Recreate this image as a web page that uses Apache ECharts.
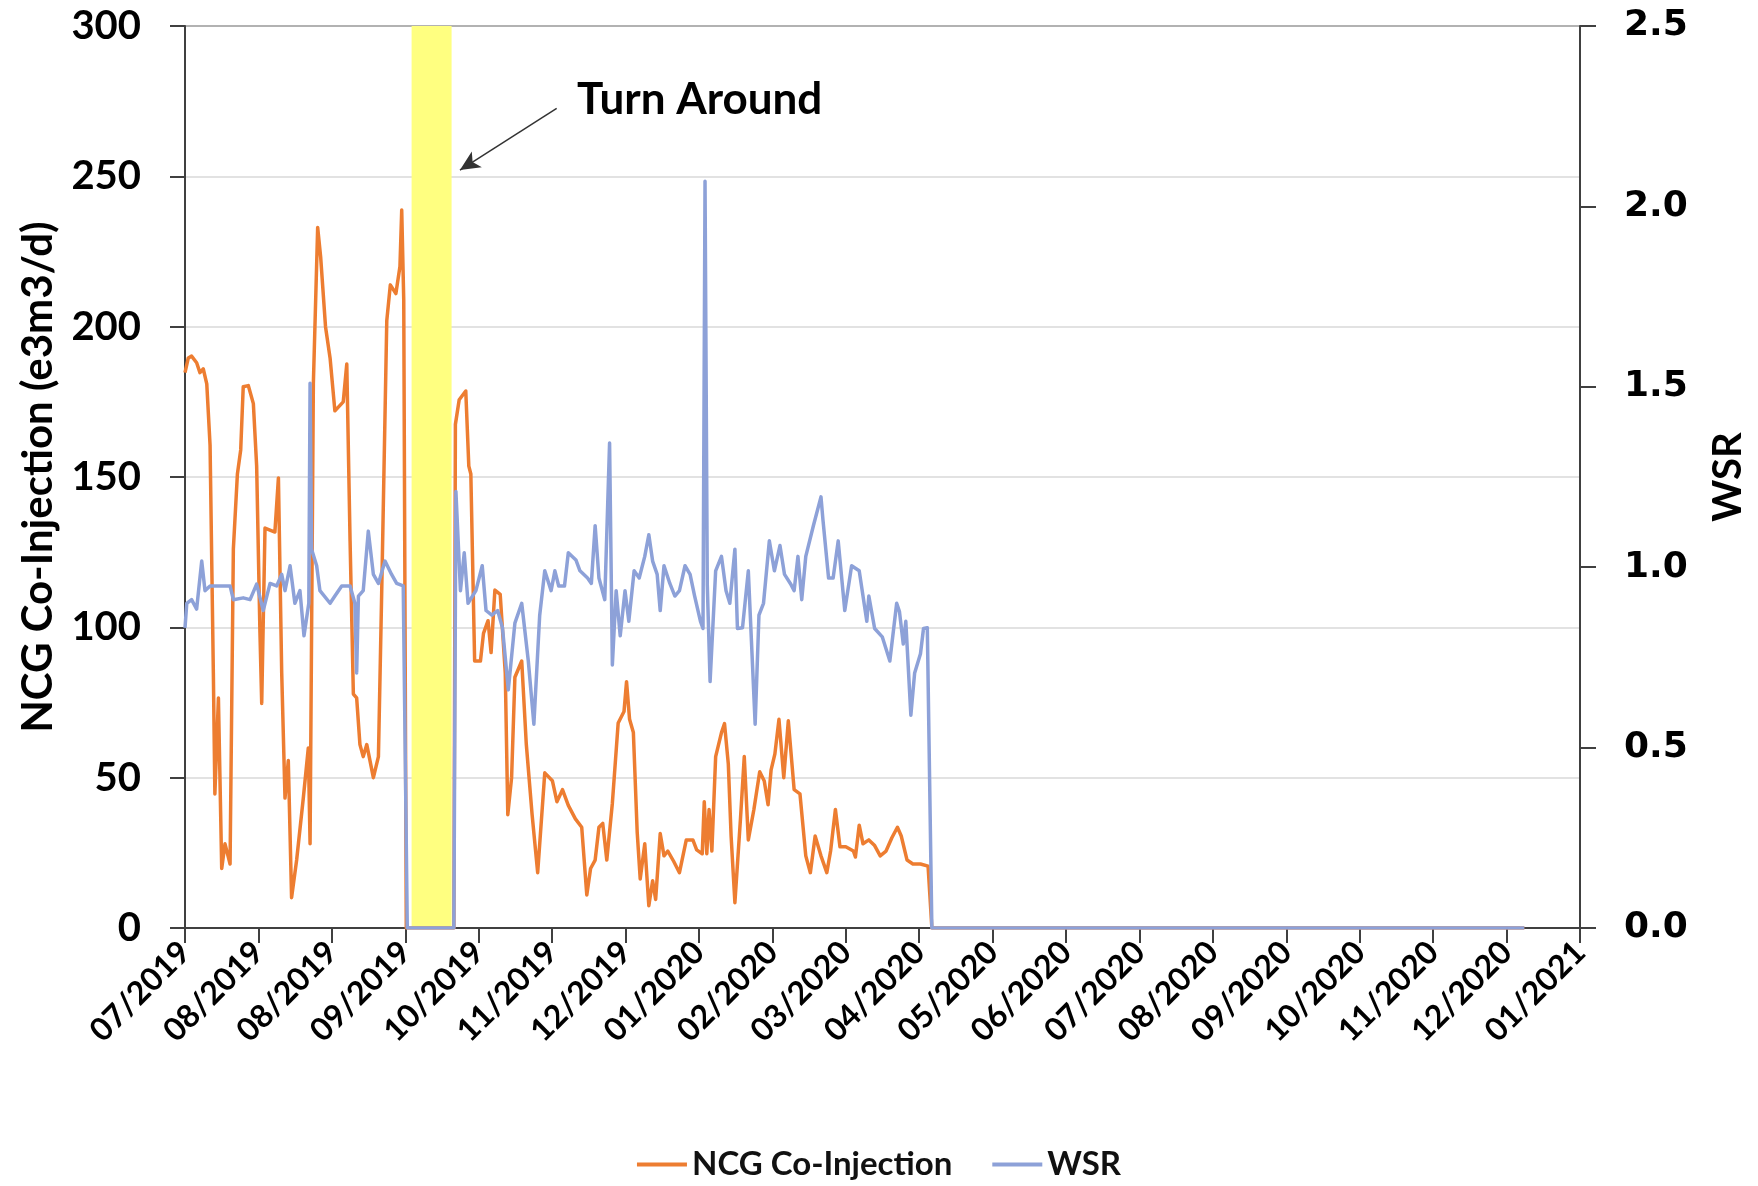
<!DOCTYPE html>
<html><head><meta charset="utf-8">
<script src="https://cdn.jsdelivr.net/npm/echarts@6/dist/echarts.min.js"></script>
<style>html,body{margin:0;padding:0;background:#fff}#chart{width:1758px;height:1186px}</style>
</head><body><div id="chart"></div>
<script>
// x positions are days since 2019-07-03; ticks every 29 days
const tickStepDays = 29;
const xTickLabels = ['07/2019','08/2019','08/2019','09/2019','10/2019','11/2019','12/2019','01/2020','02/2020','03/2020','04/2020','05/2020','06/2020','07/2020','08/2020','09/2020','10/2020','11/2020','12/2020','01/2021'];
const turnaroundBand = [89.5, 105.3];

const ncgDay = [0,1.3,2.6,4.6,5.9,7.2,8.6,9.9,11.2,11.8,13.2,14.5,15.8,17.8,19.1,20.7,22,23,25,27,28.3,29.6,30.3,31.6,35.5,36.9,38.2,39.5,40.8,42.1,44.1,46.7,48.7,49.4,50.7,52.4,53.6,55.5,57.3,59.2,62.5,63.9,65.2,66.5,67.8,69.1,70.4,71.8,74.4,76.4,77.7,79.7,81.1,83.3,84.9,85.6,86.4,87.4,
  106.2,106.8,108.3,110.9,112.1,112.9,114.4,116.7,117.9,119.7,120.9,122.4,124.5,126.5,127.5,129,130.3,133,134.8,137.1,139.3,142.1,145.1,146.9,149.1,151.4,154.2,156.7,158.7,160.2,162,163.5,165,166.6,168.8,171.1,173.4,174.4,175.6,177.1,178.6,179.8,181.6,183.2,184.7,185.9,187.7,189.2,190.7,193,195.3,198,200.6,202.1,204.3,205.1,206.1,207,208.1,209.6,211.9,213.1,214.6,215.7,217.2,219.4,220.9,222.5,224.7,227,228.8,230.3,231.5,233,234.6,236.5,238.3,240.6,242.9,245.2,247,248.9,251.2,253.5,255,256.9,258.7,261,264,264.8,266.3,267.8,270.1,272.4,274.6,276.9,279.2,281.4,282.9,285.2,287.5,290.5,293.5,295,529];
const ncgVal = [184.7,189.6,190.2,188,184.7,186,181,160.6,84.8,44.6,76.5,19.8,28,21.3,126,151,159,180,180.4,174.4,153.7,98.4,74.7,133,131.7,149.7,84.8,43.2,55.7,10.1,22.6,43,59.9,28,181,233,223,200,189.6,172,175,187.6,128.8,77.8,76.5,61,57,61,50,57,112,202,213.9,211,220,238.8,208.9,0,
  0,167.5,175.7,178.6,153.6,151,88.8,88.8,98,102.2,91.6,112.4,111,84.8,37.7,50,83.4,88.8,61.2,37.7,18.4,51.6,49,42,46,40.8,36.3,33.5,11,19.8,22.6,33.5,34.8,22.6,41.5,68.2,72,81.9,69.4,65,32,16.3,28,7.4,15.7,9.5,31.4,24,25.6,22.2,18.4,29.3,29.3,26,24.7,42,24.7,39.4,25.6,57,65,68,54.5,30.6,8.4,36.3,57,29.3,39.4,52,48.9,41,52.6,57.9,69.4,50,68.9,46,44.6,24,18.4,30.6,24,18.4,25.6,39.4,27,27,25.6,23.6,34.2,28,29.3,27.4,24,25.6,30,33.5,30.6,22.6,21.3,21.3,20.6,0,0];

const wsrDay = [0,0.7,2.6,4.6,6.6,7.9,9.9,17.8,19.1,23,25.7,28.3,30.9,33.6,36.2,38.2,39.5,41.5,43.4,45.4,47,48.9,49.4,50,52,53.3,57.3,59.2,61.9,65.2,67.1,67.8,68.5,70.4,72.4,74.4,76.4,79,81.6,83.6,86.2,87.8,
  106.2,107,108.8,110.3,111.8,114.9,117.4,118.9,121.2,123.5,125.4,127.7,130.3,133,135.6,137.8,140.1,142.1,144.6,146.1,147.6,149.9,151.4,154.4,156,159,160.5,162,163.5,165.8,167.7,168.8,170.3,171.9,173.8,175.3,177.4,179.4,181.6,183.2,184.7,186.5,187.7,189.2,191.5,193.5,195.3,197.5,199.5,201.3,203.6,204.6,205.4,206.3,207.4,209.6,211.9,213.7,215.2,217.2,218.2,220.2,222.5,225.2,226.7,228.5,230.8,232.8,235,236.8,239.1,240.6,242.1,243.6,245.2,248.2,251.2,252,254.2,256,258,260.6,263.3,266.3,269.3,270.1,272.4,275.4,278.4,281.1,282.2,283.7,284.7,286.7,288.2,290.5,291.7,293.2,295,529];
const wsrVal = [0.832,0.90,0.91,0.884,1.017,0.935,0.948,0.948,0.91,0.915,0.91,0.953,0.88,0.955,0.948,0.98,0.935,1.004,0.90,0.935,0.81,0.90,1.51,1.05,1.004,0.935,0.90,0.92,0.948,0.948,0.90,0.707,0.92,0.935,1.10,0.98,0.955,1.017,0.98,0.955,0.948,0,
  0,1.21,0.935,1.04,0.90,0.935,1.004,0.88,0.867,0.88,0.832,0.66,0.845,0.90,0.74,0.565,0.867,0.99,0.935,0.99,0.948,0.948,1.04,1.02,0.99,0.97,0.955,1.115,0.97,0.91,1.344,0.729,0.935,0.81,0.935,0.85,0.99,0.97,1.03,1.09,1.017,0.98,0.88,1.004,0.955,0.92,0.935,1.004,0.98,0.92,0.85,0.83,2.07,0.95,0.683,0.99,1.03,0.935,0.90,1.05,0.83,0.832,0.99,0.565,0.867,0.90,1.073,0.99,1.06,0.98,0.955,0.935,1.03,0.91,1.03,1.115,1.195,1.13,0.97,0.97,1.073,0.88,1.004,0.99,0.85,0.92,0.83,0.807,0.74,0.90,0.877,0.787,0.85,0.59,0.707,0.76,0.83,0.832,0,0];

// annotation (data coordinates)
const arrowFrom = [146.8, 272.6];
const arrowTo = [108.6, 252.1];
const annotationAt = [152.9, 275.4];
const annotationText = 'Turn Around';

const ncgData = ncgDay.map((d, i) => [d, ncgVal[i]]);
const wsrData = wsrDay.map((d, i) => [d, wsrVal[i]]);

const axisColor = '#404040';
const chart = echarts.init(document.getElementById('chart'), null, {renderer: 'canvas'});
chart.setOption({
  animation: false,
  backgroundColor: '#ffffff',
  grid: {left: 185, right: 178, top: 26, bottom: 258, show: true, borderColor: axisColor, borderWidth: 2, backgroundColor: 'transparent'},
  legend: {
    top: 1143, left: 'center', data: ['NCG Co-Injection', 'WSR'], icon: 'rect',
    itemWidth: 50, itemHeight: 4, itemGap: 40,
    textStyle: {fontFamily: 'Lato', fontWeight: 'bold', fontSize: 33, color: '#111'}
  },
  xAxis: {
    type: 'value', min: 0, max: tickStepDays * (xTickLabels.length - 1), interval: tickStepDays,
    axisLine: {lineStyle: {color: axisColor, width: 2}},
    axisTick: {show: true, inside: false, length: 15, lineStyle: {color: axisColor, width: 2}},
    axisLabel: {rotate: 45, margin: 19, fontFamily: 'Lato', fontWeight: 'bold', fontSize: 32, color: '#000',
      formatter: v => xTickLabels[Math.round(v / tickStepDays)] || ''},
    splitLine: {show: false}
  },
  yAxis: [
    {
      type: 'value', min: 0, max: 300, interval: 50, position: 'left',
      name: 'NCG Co-Injection (e3m3/d)', nameLocation: 'middle', nameGap: 126,
      nameTextStyle: {fontFamily: 'Lato', fontWeight: 'bold', fontSize: 42, color: '#000'},
      axisLine: {show: true, lineStyle: {color: axisColor, width: 2}},
      axisTick: {show: true, inside: false, length: 15, lineStyle: {color: axisColor, width: 2}},
      axisLabel: {margin: 44, fontFamily: 'Lato', fontWeight: 'bold', fontSize: 40, color: '#000'},
      splitLine: {show: true, lineStyle: {color: '#d9d9d9', width: 1.5}}
    },
    {
      type: 'value', min: 0, max: 2.5, interval: 0.5, position: 'right',
      name: 'WSR', nameLocation: 'middle', nameGap: 128,
      nameTextStyle: {fontFamily: 'Lato', fontWeight: 'bold', fontSize: 40, color: '#000'},
      axisLine: {show: true, lineStyle: {color: axisColor, width: 2}},
      axisTick: {show: true, inside: false, length: 16, lineStyle: {color: axisColor, width: 2}},
      axisLabel: {margin: 44, fontFamily: 'DejaVu Sans', fontWeight: 'bold', fontSize: 36, color: '#000',
        formatter: v => v.toFixed(1)},
      splitLine: {show: false}
    }
  ],
  series: [
    {
      name: 'band', type: 'line', data: [], z: 1, silent: true,
      markArea: {silent: true, itemStyle: {color: '#FFFF80'}, data: [[{xAxis: turnaroundBand[0]}, {xAxis: turnaroundBand[1]}]]}
    },
    {
      name: 'NCG Co-Injection', type: 'line', yAxisIndex: 0, data: ncgData, showSymbol: false, symbol: 'none', z: 3,
      lineStyle: {color: '#ED7D31', width: 3.5, join: 'round'}, itemStyle: {color: '#ED7D31'},
      markLine: {
        silent: true, symbol: ['none', 'arrow'], symbolSize: [14, 20],
        lineStyle: {color: '#333', width: 1.5, type: 'solid'}, label: {show: false},
        data: [[{coord: arrowFrom}, {coord: arrowTo}]]
      },
      markPoint: {
        silent: true, symbol: 'circle', symbolSize: 0,
        label: {show: true, position: 'right', distance: 5, formatter: annotationText,
          fontFamily: 'Lato', fontWeight: 'bold', fontSize: 44, color: '#000'},
        data: [{coord: annotationAt}]
      }
    },
    {
      name: 'WSR', type: 'line', yAxisIndex: 1, data: wsrData, showSymbol: false, symbol: 'none', z: 4,
      lineStyle: {color: '#8DA1D8', width: 3.5, join: 'round'}, itemStyle: {color: '#8DA1D8'}
    }
  ]
});
</script></body></html>
